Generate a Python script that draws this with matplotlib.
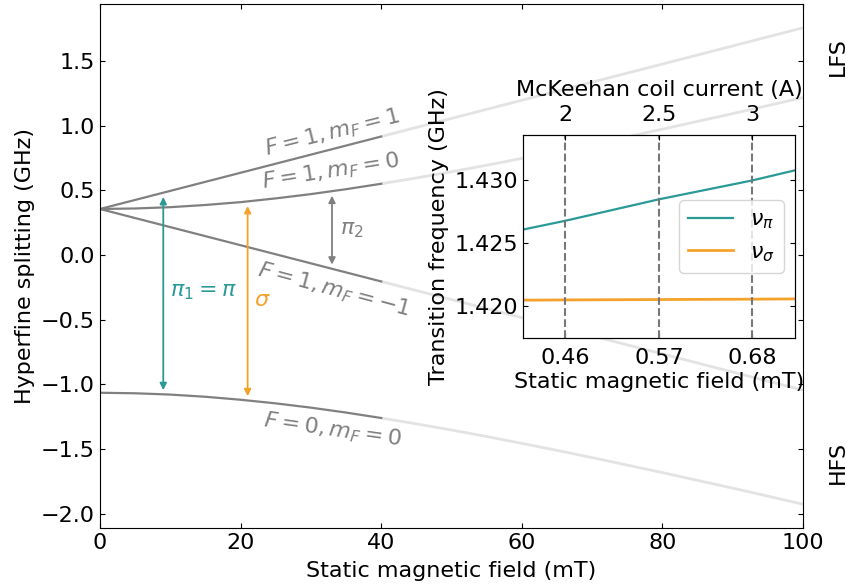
import matplotlib
matplotlib.use('Agg')
import matplotlib.pyplot as plt
import matplotlib.transforms as mtransforms

# ---------------- data ----------------
B_mT = [0, 5, 10, 15, 20, 25, 30, 35, 40, 45, 50, 55, 60, 65, 70, 75, 80, 85, 90, 95, 100]
E_F1_mF1 = [0.355, 0.425, 0.495, 0.565, 0.635, 0.705, 0.775, 0.845, 0.915, 0.985, 1.055,
            1.125, 1.195, 1.265, 1.335, 1.405, 1.475, 1.545, 1.615, 1.685, 1.755]
E_F1_mF0 = [0.355, 0.359, 0.369, 0.386, 0.408, 0.437, 0.470, 0.508, 0.550, 0.595, 0.643,
            0.693, 0.746, 0.800, 0.856, 0.913, 0.972, 1.032, 1.092, 1.154, 1.216]
E_F1_mFm1 = [0.355, 0.285, 0.215, 0.145, 0.075, 0.005, -0.065, -0.135, -0.205, -0.275, -0.345,
             -0.415, -0.485, -0.555, -0.625, -0.695, -0.765, -0.835, -0.905, -0.975, -1.045]
E_F0_mF0 = [-1.065, -1.069, -1.079, -1.096, -1.119, -1.147, -1.180, -1.218, -1.260, -1.305, -1.353,
            -1.403, -1.456, -1.510, -1.566, -1.624, -1.682, -1.742, -1.802, -1.864, -1.926]
B_dark_max = 40

# transition arrows: field, upper level, lower level
arrow_B = [9, 21, 33]
arrow_top = [0.48, 0.41, 0.49]
arrow_bottom = [-1.077, -1.124, -0.107]

# inset
inset_B = [0.41, 0.46, 0.57, 0.68, 0.73]
nu_pi = [1.4261, 1.4268, 1.4285, 1.4300, 1.4308]
nu_sigma = [1.4205, 1.42052, 1.42055, 1.42058, 1.4206]
current_A = ['2', '2.5', '3']
field_at_current = [0.46, 0.57, 0.68]
inset_yticks = [1.420, 1.425, 1.430]

TEAL = '#2a9a97'
ORANGE = '#f5a22a'
DARK = '#808080'
LIGHT = '#e3e3e3'
FS = 16

plt.rcParams['font.family'] = ['DejaVu Sans']
fig = plt.figure(figsize=(8.46, 5.87), dpi=100)
ax = fig.add_axes([0.1182, 0.1005, 0.831, 0.8927])

levels = [E_F1_mF1, E_F1_mF0, E_F1_mFm1, E_F0_mF0]
for E in levels:
    Bl = [b for b in B_mT if b >= B_dark_max]
    El = [e for b, e in zip(B_mT, E) if b >= B_dark_max]
    ax.plot(Bl, El, color=LIGHT, lw=2, solid_capstyle='butt')
    Bd = [b for b in B_mT if b <= B_dark_max]
    Ed = [e for b, e in zip(B_mT, E) if b <= B_dark_max]
    ax.plot(Bd, Ed, color=DARK, lw=1.6)

ax.set_xlim(0, 100)
ax.set_xticks([0, 20, 40, 60, 80, 100])
ax.set_yticks([-2.0, -1.5, -1.0, -0.5, 0.0, 0.5, 1.0, 1.5])
ax.tick_params(direction='in', top=True, right=True, labelsize=FS)
ax.set_xlabel('Static magnetic field (mT)', fontsize=FS, labelpad=6)
ax.set_ylabel('Hyperfine splitting (GHz)', fontsize=FS, labelpad=4)

# level labels
ax.text(33.0, 0.94, r'$F=1, m_F=1$', color=DARK, fontsize=FS, rotation=14,
        ha='center', va='center', rotation_mode='anchor')
ax.text(32.8, 0.645, r'$F=1, m_F=0$', color=DARK, fontsize=FS, rotation=9,
        ha='center', va='center', rotation_mode='anchor')
ax.text(33.2, -0.27, r'$F=1, m_F=-1$', color=DARK, fontsize=FS, rotation=-15,
        ha='center', va='center', rotation_mode='anchor')
ax.text(33.0, -1.35, r'$F=0, m_F=0$', color=DARK, fontsize=FS, rotation=-8,
        ha='center', va='center', rotation_mode='anchor')

# arrows
colors = [TEAL, ORANGE, DARK]
for b, top, bot, c in zip(arrow_B, arrow_top, arrow_bottom, colors):
    ax.annotate('', xy=(b, top), xytext=(b, bot),
                arrowprops=dict(arrowstyle='<|-|>', color=c, lw=1.3,
                                shrinkA=3, shrinkB=3))
ax.text(14.7, -0.29, r'$\pi_1 = \pi$', color=TEAL, fontsize=FS, ha='center', va='center')
ax.text(23.1, -0.35, r'$\sigma$', color=ORANGE, fontsize=FS, ha='center', va='center')
ax.text(35.8, 0.19, r'$\pi_2$', color=DARK, fontsize=FS, ha='center', va='center')

# LFS / HFS
trans = mtransforms.blended_transform_factory(ax.transAxes, ax.transData)
ax.text(1.049, 1.53, 'LFS', rotation=90, fontsize=FS, ha='center', va='center', transform=trans)
ax.text(1.049, -1.60, 'HFS', rotation=90, fontsize=FS, ha='center', va='center', transform=trans)

# ---------------- inset ----------------
axi = fig.add_axes([0.6182, 0.4242, 0.3215, 0.3458])
axi.plot(inset_B, nu_pi, color=TEAL, lw=1.6, label=r'$\nu_\pi$')
axi.plot(inset_B, nu_sigma, color=ORANGE, lw=2.0, label=r'$\nu_\sigma$')
for fb in field_at_current:
    axi.axvline(fb, color='#777777', ls='--', lw=1.5)
axi.set_xlim(0.41, 0.73)
axi.set_ylim(1.4175, 1.4336)
axi.set_xticks(field_at_current)
axi.set_xticklabels(['%.2f' % v for v in field_at_current])
axi.set_yticks(inset_yticks)
axi.set_yticklabels(['%.3f' % v for v in inset_yticks])
axi.tick_params(direction='in', right=True, labelsize=FS)
axi.tick_params(axis='x', pad=7)
axi.set_xlabel('Static magnetic field (mT)', fontsize=FS, labelpad=3)
axi.set_ylabel('Transition frequency (GHz)', fontsize=FS, labelpad=4)
axi.legend(loc='center right', fontsize=FS)

axt = axi.twiny()
axt.set_xlim(axi.get_xlim())
axt.set_xticks(field_at_current)
axt.set_xticklabels(current_A)
axt.tick_params(direction='in', labelsize=FS, pad=7.5)
axt.set_xlabel('McKeehan coil current (A)', fontsize=FS, labelpad=6)

fig.savefig('out.png', dpi=100)
